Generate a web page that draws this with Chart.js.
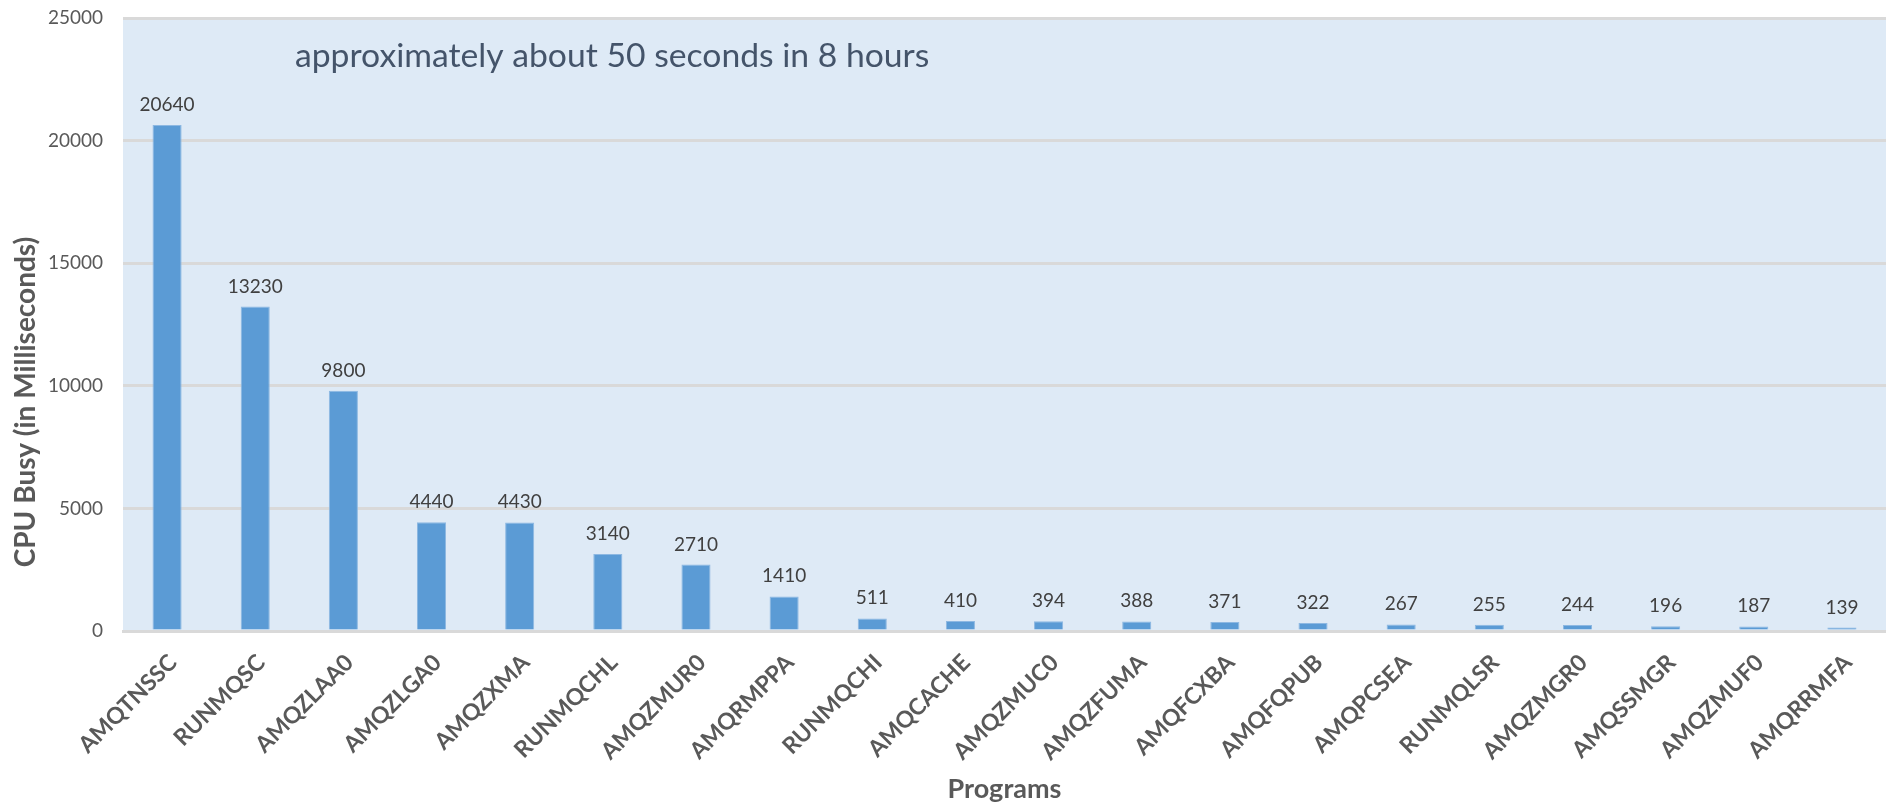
<!DOCTYPE html>
<html>
<head>
<meta charset="utf-8">
<script src="https://cdn.jsdelivr.net/npm/chart.js@4/dist/chart.umd.min.js"></script>
<style>
html,body{margin:0;padding:0;background:#fff;}
#wrap{width:1886px;height:805px;}
</style>
</head>
<body>
<div id="wrap"><canvas id="c" width="1886" height="805"></canvas></div>
<script>
const programs = ['AMQTNSSC','RUNMQSC','AMQZLAA0','AMQZLGA0','AMQZXMA','RUNMQCHL','AMQZMUR0','AMQRMPPA','RUNMQCHI','AMQCACHE','AMQZMUC0','AMQZFUMA','AMQFCXBA','AMQFQPUB','AMQPCSEA','RUNMQLSR','AMQZMGR0','AMQSSMGR','AMQZMUF0','AMQRRMFA'];
const cpuBusy = [20640,13230,9800,4440,4430,3140,2710,1410,511,410,394,388,371,322,267,255,244,196,187,139];
const yMax = 25000;
const yStep = 5000;
const yTitle = 'CPU Busy (in Milliseconds)';
const xTitle = 'Programs';
const note = 'approximately about 50 seconds in 8 hours';

const bgPlugin = {
  id: 'plotBg',
  beforeDraw(chart) {
    const {ctx, chartArea: a} = chart;
    ctx.save();
    ctx.fillStyle = '#DEEAF6';
    ctx.fillRect(a.left, a.top, a.right - a.left, a.bottom - a.top);
    ctx.restore();
  }
};

const labelPlugin = {
  id: 'valLabels',
  afterDatasetsDraw(chart) {
    const {ctx} = chart;
    const meta = chart.getDatasetMeta(0);
    ctx.save();
    ctx.font = '19px Lato';
    ctx.fillStyle = '#404040';
    ctx.textAlign = 'center';
    ctx.textBaseline = 'alphabetic';
    meta.data.forEach((bar, i) => {
      ctx.fillText(String(cpuBusy[i]), bar.x, bar.y - 14);
    });
    ctx.restore();
  },
  afterDraw(chart) {
    const {ctx, chartArea: a} = chart;
    ctx.save();
    ctx.font = '33.7px Lato';
    ctx.fillStyle = '#44546A';
    ctx.textAlign = 'left';
    ctx.textBaseline = 'alphabetic';
    ctx.fillText(note, a.left + 172, a.top + 49);
    // y axis title
    ctx.font = 'bold 28px Lato';
    ctx.fillStyle = '#595959';
    ctx.textAlign = 'center';
    ctx.textBaseline = 'middle';
    ctx.translate(26, 402);
    ctx.rotate(-Math.PI / 2);
    ctx.fillText(yTitle, 0, 0);
    ctx.restore();
  }
};

new Chart(document.getElementById('c'), {
  type: 'bar',
  data: {
    labels: programs,
    datasets: [{
      data: cpuBusy,
      backgroundColor: '#5B9BD5',
      borderColor: '#8DB8E2',
      borderWidth: 1,
      barPercentage: 0.33,
      categoryPercentage: 1.0
    }]
  },
  options: {
    responsive: false,
    animation: false,
    devicePixelRatio: 1,
    layout: { autoPadding: false, padding: { top: 18, right: 0, bottom: 0, left: 0 } },
    plugins: { legend: { display: false }, title: { display: false }, tooltip: { enabled: false } },
    scales: {
      x: {
        grid: { display: false, drawTicks: false },
        border: { display: true, color: '#D9D9D9', width: 3 },
        ticks: {
          color: '#595959',
          font: { family: 'Lato', size: 23, weight: 'bold' },
          minRotation: 45, maxRotation: 45,
          padding: 18,
          labelOffset: 6,
          autoSkip: false
        },
        title: {
          display: true, text: xTitle, color: '#595959',
          font: { family: 'Lato', size: 27, weight: 'bold' },
          padding: { top: 0, bottom: 0 }
        },
        afterFit(scale) { scale.height = 174; scale.paddingTop = 0; scale.paddingBottom = 0; scale.paddingRight = 0; }
      },
      y: {
        min: 0, max: yMax,
        grid: { color: '#D9D9D9', lineWidth: 3, drawTicks: false },
        border: { display: false },
        ticks: {
          stepSize: yStep,
          color: '#595959',
          font: { family: 'Lato', size: 19 },
          padding: 20,
          callback: (v) => String(v)
        },
        title: { display: false },
        afterFit(scale) { scale.width = 123; scale.paddingTop = 0; scale.paddingBottom = 0; }
      }
    }
  },
  plugins: [bgPlugin, labelPlugin]
});
</script>
</body>
</html>
